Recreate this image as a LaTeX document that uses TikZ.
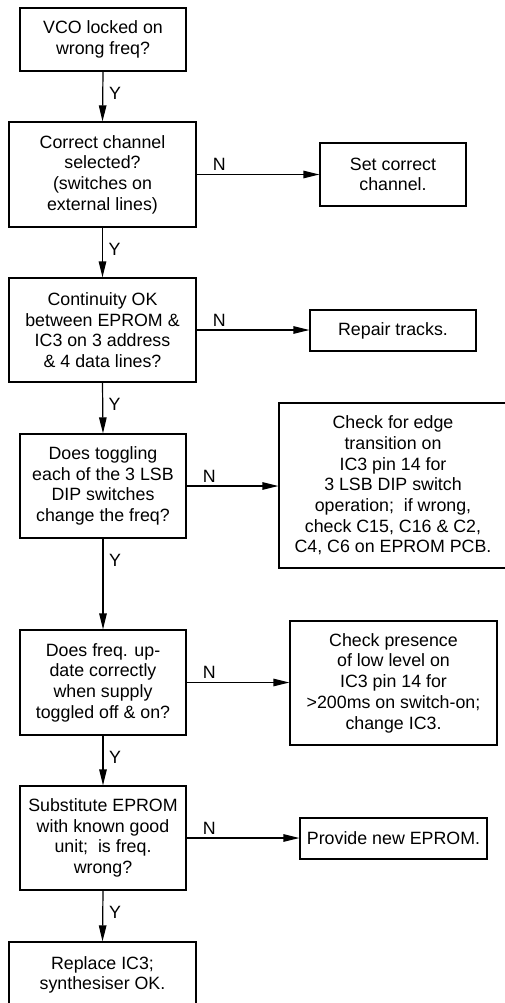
\documentclass[tikz,border=0pt]{standalone}
\usepackage{fontspec}
\setmainfont{Liberation Sans}
\usetikzlibrary{arrows.meta}
\begin{document}
\begin{tikzpicture}[x=1pt,y=-1pt,
  box/.style={draw,line width=1.2pt,align=center,inner sep=0pt,
    font=\fontsize{17.8}{20.7}\selectfont},
  arr/.style={line width=1.2pt,-{Triangle[length=16pt,width=7.5pt]}},
  lab/.style={font=\fontsize{17.8}{20.7}\selectfont,inner sep=0pt}]
\useasboundingbox (0,0) rectangle (505,1003);
\clip (0,0) rectangle (505,1003);
% main column
\node[box,minimum width=166pt,minimum height=63pt] (b1) at (103,39.5) {VCO locked on\\wrong freq?};
\node[box,minimum width=187pt,minimum height=105pt] (b2) at (102.5,174.5) {Correct channel\\selected?\\(switches on\\external lines)};
\node[box,minimum width=187pt,minimum height=104pt] (b3) at (102.5,330) {Continuity OK\\between EPROM \&\\IC3 on 3 address\\\& 4 data lines?};
\node[box,minimum width=166pt,minimum height=104pt] (b4) at (103,486) {Does toggling\\each of the 3 LSB\\DIP switches\\change the freq?};
\node[box,minimum width=166pt,minimum height=105pt] (b5) at (103,682.5) {Does freq. up-\\date correctly\\when supply\\toggled off \& on?};
\node[box,minimum width=166pt,minimum height=104pt] (b6) at (103,838) {Substitute EPROM\\with known good\\unit;\ \ is freq.\\wrong?};
\node[box,minimum width=187pt,minimum height=66pt] (b7) at (102.5,975) {Replace IC3;\\synthesiser OK.};
% right column
\node[box,minimum width=146pt,minimum height=63pt] (r2) at (393,174.5) {Set correct\\channel.};
\node[box,minimum width=166pt,minimum height=41pt] (r3) at (393,330.5) {Repair tracks.};
\node[box,minimum width=228pt,minimum height=165pt] (r4) at (393,485.5) {Check for edge\\transition on\\IC3 pin 14 for\\3 LSB DIP switch\\operation;\ \ if wrong,\\check C15, C16 \& C2,\\C4, C6 on EPROM PCB.};
\node[box,minimum width=207pt,minimum height=124pt] (r5) at (393.5,683) {Check presence\\of low level on\\IC3 pin 14 for\\>200ms on switch-on;\\change IC3.};
\node[box,minimum width=187pt,minimum height=41pt] (r6) at (393.5,838.5) {Provide new EPROM.};
% vertical Y arrows
\foreach \a/\b in {b1/b2,b2/b3,b3/b4,b4/b5,b5/b6,b6/b7}{
  \draw[arr] (\a.south) -- (\b.north);
  \node[lab,anchor=west] at ([xshift=6pt,yshift=-22pt]\a.south) {Y};
}
% horizontal N arrows
\foreach \a/\b in {b2/r2,b3/r3,b4/r4,b5/r5,b6/r6}{
  \draw[arr] (\a.east) -- (\a.east -| \b.west);
  \node[lab,anchor=west] at ([xshift=16pt,yshift=10pt]\a.east) {N};
}
\end{tikzpicture}
\end{document}
